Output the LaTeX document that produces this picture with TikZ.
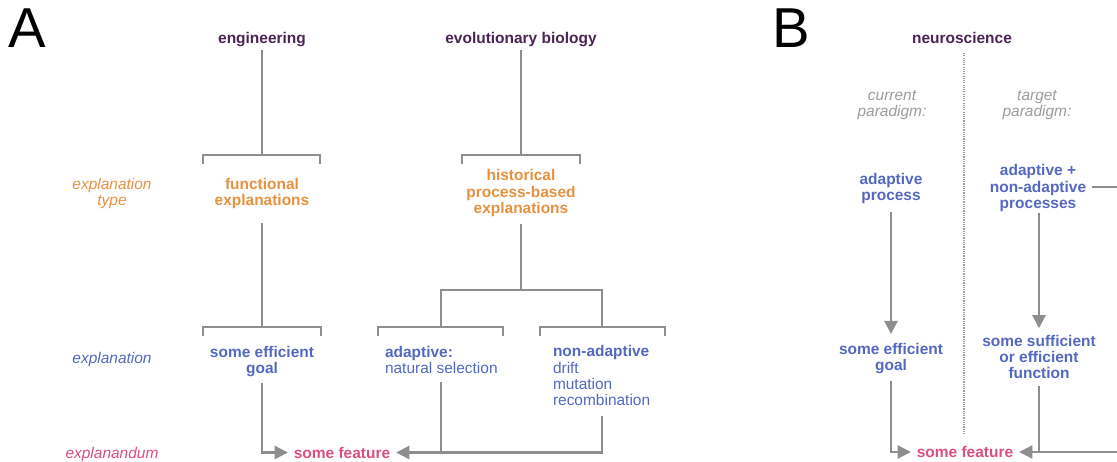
\documentclass[tikz,border=0pt]{standalone}
\usepackage{fontspec}
\setmainfont{Liberation Sans}
\usetikzlibrary{arrows.meta}

\definecolor{fieldcol}{HTML}{4A2452}
\definecolor{typecol}{HTML}{E6913F}
\definecolor{explcol}{HTML}{5468C0}
\definecolor{featcol}{HTML}{D8507C}
\definecolor{linkcol}{HTML}{8E8E8E}
\definecolor{notecol}{HTML}{9C9C9C}

\begin{document}
\begin{tikzpicture}[
        x=0.025cm, y=-0.025cm,
        txt/.style={inner sep=0pt, outer sep=4pt, align=center, font=\fontsize{11pt}{11.4pt}\selectfont},
        field/.style={txt, text=fieldcol, font=\fontsize{11pt}{11.4pt}\selectfont\bfseries},
        kind/.style={txt, text=typecol, font=\fontsize{11pt}{11.4pt}\selectfont\bfseries},
        expl/.style={txt, text=explcol, font=\fontsize{11pt}{11.4pt}\selectfont\bfseries},
        mech/.style={txt, outer xsep=0pt, text=explcol, align=left, anchor=west},
        feat/.style={txt, outer xsep=4.3pt, text=featcol, font=\fontsize{11pt}{11.4pt}\selectfont\bfseries},
        rowlab/.style={txt, font=\fontsize{11pt}{11.4pt}\selectfont\itshape},
        note/.style={txt, text=notecol, font=\fontsize{11pt}{11.4pt}\selectfont\itshape},
        panel/.style={inner sep=0pt, font=\fontsize{40pt}{40pt}\selectfont},
        link/.style={draw=linkcol, line width=1.5pt},
        arrow/.style={link, -{Triangle[length=9.3pt, width=9.3pt]}},
        divider/.style={draw=notecol, line width=1.1pt, dash pattern=on 0.8pt off 0.8pt}
    ]
    \useasboundingbox (0,0) rectangle (1117,461);

    % panel A
    \node[panel] (A) at (27.5,28.5) {A};
    \node[rowlab, text=typecol] (lab-type) at (112,193.5) {explanation\\type};
    \node[rowlab, text=explcol] (lab-expl) at (112,359) {explanation};
    \node[rowlab, text=featcol] (lab-feat) at (112,454) {explanandum};

    \node[field, outer ysep=1.9pt] (eng) at (262,40) {engineering};
    \node[field, outer ysep=1.9pt] (evo) at (521,40) {evolutionary biology};
    \node[kind, outer ysep=10.2pt] (fun) at (262,193.5) {functional\\explanations};
    \node[kind, outer ysep=5.6pt] (hist) at (521,193) {historical\\process-based\\explanations};
    \node[expl, outer ysep=3.9pt] (goal) at (262,362) {some efficient\\goal};
    \node[mech, outer ysep=6.6pt] (adap) at (385,359.5) {\textbf{adaptive:}\\natural selection};
    \node[mech, outer ysep=7.6pt] (nonad) at (553,375.5) {\textbf{non-adaptive}\\drift\\mutation\\recombination};
    \node[feat] (featA) at (342,452.5) {some feature};

    \coordinate (eng-bar) at (262,155);
    \coordinate (evo-bar) at (521,155);
    \coordinate (hist-bar) at (521,290);
    \coordinate (goal-bar) at (262,327);
    \coordinate (adap-bar) at (441,327);
    \coordinate (nonad-bar) at (602,327);

    % brackets
    \draw[link] ([shift={(-59,9)}]eng-bar) |- ([shift={(58,0)}]eng-bar) -- ++(0,9);
    \draw[link] ([shift={(-59,9)}]evo-bar) |- ([shift={(59,0)}]evo-bar) -- ++(0,9);
    \draw[link] ([shift={(-59,9)}]goal-bar) |- ([shift={(59,0)}]goal-bar) -- ++(0,9);
    \draw[link] ([shift={(-63,9)}]adap-bar) |- ([shift={(62,0)}]adap-bar) -- ++(0,9);
    \draw[link] ([shift={(-62,9)}]nonad-bar) |- ([shift={(63,0)}]nonad-bar) -- ++(0,9);

    % connectors
    \draw[link] (eng) -- (eng-bar);
    \draw[link] (evo) -- (evo-bar);
    \draw[link] (fun) -- (goal-bar);
    \draw[link] (hist) -- (hist-bar);
    \draw[link] (adap-bar) -- (adap-bar |- hist-bar) -- (nonad-bar |- hist-bar) -- (nonad-bar);
    \draw[arrow] (goal) |- (featA);
    \draw[link] (adap.south -| adap-bar) -- (adap-bar |- featA);
    \draw[arrow] (nonad.south -| nonad-bar) |- (featA);

    % panel B
    \node[panel] (B) at (791.5,28.5) {B};
    \node[field] (neuro) at (962,38) {neuroscience};
    \coordinate (div-top) at (964,53);
    \coordinate (div-bot) at (964,435);
    \draw[divider] (div-top) -- (div-bot);

    \node[note] (cur) at (892,105) {current\\paradigm:};
    \node[note] (tgt) at (1037,105) {target\\paradigm:};
    \node[expl, outer ysep=6.2pt] (adproc) at (891,188.5) {adaptive\\process};
    \node[expl, outer xsep=4pt, outer ysep=1.1pt] (mixproc) at (1038,188) {adaptive +\\non-adaptive\\processes};
    \node[expl, outer sep=4.8pt] (goalB) at (891,359) {some efficient\\goal};
    \node[expl, outer sep=5pt] (func) at (1039,357) {some sufficient\\or efficient\\function};
    \node[feat] (featB) at (965,452) {some feature};

    \coordinate (edge-mid) at (1117,187);
    \coordinate (edge-low) at (1117,452);

    \draw[arrow, shorten >=2.1pt] (adproc) -- (goalB);
    \draw[arrow] (mixproc.south -| func) -- (func);
    \draw[link] (mixproc.east |- edge-mid) -- (edge-mid);
    \draw[arrow] (goalB) |- (featB);
    \draw[link] (func) -- (func |- featB);
    \draw[arrow] (edge-low) -- (featB);
\end{tikzpicture}
\end{document}
